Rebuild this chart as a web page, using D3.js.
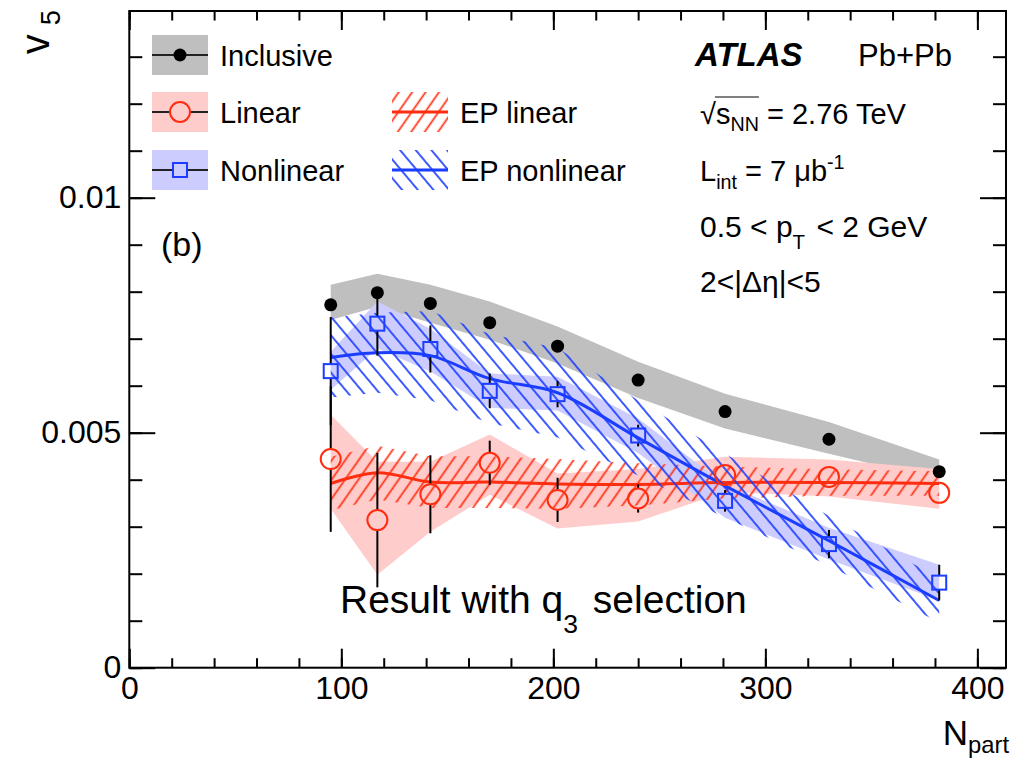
<!DOCTYPE html>
<html>
<head>
<meta charset="utf-8">
<script src="https://cdn.jsdelivr.net/npm/d3@7"></script>
<style>
  body { margin: 0; background: #fff; }
  text { font-family: "Liberation Sans", Arial, Helvetica, sans-serif; fill: #000; }
</style>
</head>
<body>
<svg id="canvas"></svg>
<script>
// N_part bins
const npart = [95, 117, 142, 170, 202, 240, 281, 330, 382];

// inclusive v5 + systematic band
const inclusive      = [0.00772, 0.00798, 0.00775, 0.00734, 0.00684, 0.00612, 0.00545, 0.00486, 0.00417];
const inclusiveErr   = [0.00008, 0.00008, 0.00008, 0.00008, 0.00008, 0.00008, 0.00008, 0.00008, 0.00008];
const inclusiveSysLo = [0.00740, 0.00768, 0.00734, 0.00698, 0.00647, 0.00574, 0.00509, 0.00455, 0.00400];
const inclusiveSysHi = [0.00815, 0.00838, 0.00815, 0.00779, 0.00726, 0.00651, 0.00583, 0.00523, 0.00443];

// linear component
const linear      = [0.00444, 0.00314, 0.00369, 0.00436, 0.00357, 0.00360, 0.00410, 0.00406, 0.00372];
const linearErr   = [0.00155, 0.00143, 0.00083, 0.00047, 0.00047, 0.00030, 0.00020, 0.00020, 0.00020];
const linearSysLo = [0.00338, 0.00198, 0.00289, 0.00368, 0.00296, 0.00311, 0.00374, 0.00364, 0.00338];
const linearSysHi = [0.00538, 0.00438, 0.00438, 0.00496, 0.00413, 0.00423, 0.00449, 0.00443, 0.00423];

// nonlinear component
const nonlinear      = [0.00631, 0.00732, 0.00678, 0.00589, 0.00582, 0.00494, 0.00355, 0.00263, 0.00181];
const nonlinearErr   = [0.00115, 0.00068, 0.00050, 0.00037, 0.00028, 0.00023, 0.00023, 0.00030, 0.00038];
const nonlinearSysLo = [0.00591, 0.00679, 0.00630, 0.00553, 0.00547, 0.00457, 0.00319, 0.00230, 0.00143];
const nonlinearSysHi = [0.00672, 0.00779, 0.00721, 0.00626, 0.00619, 0.00530, 0.00390, 0.00298, 0.00219];

// event-plane results (line + hatched band)
const epLinear       = [0.00392, 0.00415, 0.00395, 0.00395, 0.00391, 0.00390, 0.00394, 0.00394, 0.00392];
const epLinearErr    = [0.00057, 0.00057, 0.00055, 0.00055, 0.00053, 0.00045, 0.00034, 0.00028, 0.00026];
const epNonlinear    = [0.00660, 0.00670, 0.00664, 0.00615, 0.00585, 0.00489, 0.00387, 0.00270, 0.00143];
const epNonlinearErr = [0.00085, 0.00085, 0.00095, 0.00095, 0.00095, 0.00080, 0.00068, 0.00053, 0.00047];

const xMajorTicks = [0, 100, 200, 300, 400];
const yMajorTicks = [0, 0.005, 0.01];
const legendLabels = ["Inclusive", "Linear", "Nonlinear"];
const epLegendLabels = ["EP linear", "EP nonlinear"];

const grey = "#bfbfbf", pink = "#ffcccc", lightBlue = "#ccccff";
const red = "#ff2d0f", blue = "#1a3dff";

const W = 1014, H = 758;
const margins = { top: 11, right: 8, bottom: 90.3, left: 129.3 };
const plotW = W - margins.left - margins.right;
const plotH = H - margins.top - margins.bottom;

const svg = d3.select("#canvas").attr("width", W).attr("height", H);
svg.append("rect").attr("width", W).attr("height", H).attr("fill", "#fff");

const defs = svg.append("defs");
const hatch = (id, color, gap, angle) => {
    const p = defs.append("pattern")
        .attr("id", id)
        .attr("patternUnits", "userSpaceOnUse")
        .attr("width", gap).attr("height", gap)
        .attr("patternTransform", "rotate(" + angle + ")");
    p.append("line")
        .attr("x1", gap / 2).attr("x2", gap / 2)
        .attr("y1", 0).attr("y2", gap)
        .attr("stroke", color).attr("stroke-width", 1.7);
}
hatch("hatchRed", red, 11, 35);
hatch("hatchBlue", blue, 12, -40);

const g = svg.append("g")
    .attr("transform", "translate(" + margins.left + "," + margins.top + ")");

const x = d3.scaleLinear().domain([0, 413.5]).range([0, plotW]);
const y = d3.scaleLinear().domain([0, 0.013972]).range([plotH, 0]);

// bands
const bandArea = d3.area()
    .x(d => x(d.n))
    .y0(d => y(d.lo))
    .y1(d => y(d.hi));

const band = (lo, hi) => npart.map((n, i) => ({ n, lo: lo[i], hi: hi[i] }));

g.append("path").attr("d", bandArea(band(inclusiveSysLo, inclusiveSysHi))).attr("fill", grey);
g.append("path").attr("d", bandArea(band(linearSysLo, linearSysHi))).attr("fill", pink);
g.append("path").attr("d", bandArea(band(nonlinearSysLo, nonlinearSysHi))).attr("fill", lightBlue);

const epLine = d3.line()
    .x(d => x(d.n))
    .y(d => y(d.v))
    .curve(d3.curveCatmullRom.alpha(0.5));

const drawEP = (vals, errs, patternId, color) => {
    g.append("path")
        .attr("d", bandArea(band(vals.map((v, i) => v - errs[i]), vals.map((v, i) => v + errs[i]))))
        .attr("fill", "url(#" + patternId + ")");
    g.append("path")
        .attr("d", epLine(npart.map((n, i) => ({ n, v: vals[i] }))))
        .attr("fill", "none")
        .attr("stroke", color)
        .attr("stroke-width", 3);
}
drawEP(epLinear, epLinearErr, "hatchRed", red);
drawEP(epNonlinear, epNonlinearErr, "hatchBlue", blue);

// error bars, not drawn inside the marker
const errorBars = (vals, errs, gap) => {
    const segs = [];
    vals.forEach((v, i) => {
        const cx = x(npart[i]), cy = y(v);
        const top = y(v + errs[i]), bot = y(v - errs[i]);
        if (cy - gap > top) segs.push([cx, top, cy - gap]);
        if (bot > cy + gap) segs.push([cx, cy + gap, bot]);
    });
    g.append("g").selectAll("line")
        .data(segs)
        .enter()
        .append("line")
        .attr("x1", d => d[0]).attr("x2", d => d[0])
        .attr("y1", d => d[1]).attr("y2", d => d[2])
        .attr("stroke", "#000")
        .attr("stroke-width", 2);
}
errorBars(nonlinear, nonlinearErr, 7);
errorBars(linear, linearErr, 10);
errorBars(inclusive, inclusiveErr, 6.5);

// markers
const circleMarker = (sel, r, fill, stroke) => sel
    .attr("r", r).attr("fill", fill).attr("stroke", stroke).attr("stroke-width", 2);
const squareMarker = sel => sel
    .attr("width", 14).attr("height", 14)
    .attr("fill", "none").attr("stroke", blue).attr("stroke-width", 2);

g.append("g").selectAll("circle")
    .data(inclusive)
    .enter()
    .append("circle")
    .attr("cx", (d, i) => x(npart[i]))
    .attr("cy", d => y(d))
    .call(circleMarker, 6.5, "#000", "none");

g.append("g").selectAll("circle")
    .data(linear)
    .enter()
    .append("circle")
    .attr("cx", (d, i) => x(npart[i]))
    .attr("cy", d => y(d))
    .call(circleMarker, 10, "none", red);

g.append("g").selectAll("rect")
    .data(nonlinear)
    .enter()
    .append("rect")
    .attr("x", (d, i) => x(npart[i]) - 7)
    .attr("y", d => y(d) - 7)
    .call(squareMarker);

// axes, ROOT style: ticks inside on all four sides
const xMinor = d3.range(0, 414, 20);
const yMinor = d3.range(0, 0.0139, 0.001);
const noLabel = () => "";

const axisStyle = (sel) => {
    sel.select(".domain").remove();
    sel.selectAll(".tick line").attr("stroke", "#000").attr("stroke-width", 2);
    sel.selectAll("text").style("font-size", "32px").attr("fill", "#000");
}

g.append("g").attr("transform", "translate(0," + plotH + ")")
    .call(d3.axisBottom(x).tickValues(xMinor).tickSize(-9.5).tickFormat(noLabel)).call(axisStyle);
g.append("g").attr("transform", "translate(0," + plotH + ")")
    .call(d3.axisBottom(x).tickValues(xMajorTicks).tickSize(-19).tickPadding(9).tickFormat(d => d)).call(axisStyle);
g.append("g")
    .call(d3.axisTop(x).tickValues(xMinor).tickSize(-9.5).tickFormat(noLabel)).call(axisStyle);
g.append("g")
    .call(d3.axisTop(x).tickValues(xMajorTicks).tickSize(-19).tickFormat(noLabel)).call(axisStyle);

g.append("g")
    .call(d3.axisLeft(y).tickValues(yMinor).tickSize(-13).tickFormat(noLabel)).call(axisStyle);
g.append("g")
    .call(d3.axisLeft(y).tickValues(yMajorTicks).tickSize(-26).tickPadding(8).tickFormat(d => String(d))).call(axisStyle);
g.append("g").attr("transform", "translate(" + plotW + ",0)")
    .call(d3.axisRight(y).tickValues(yMinor).tickSize(-13).tickFormat(noLabel)).call(axisStyle);
g.append("g").attr("transform", "translate(" + plotW + ",0)")
    .call(d3.axisRight(y).tickValues(yMajorTicks).tickSize(-26).tickFormat(noLabel)).call(axisStyle);

g.append("rect")
    .attr("width", plotW).attr("height", plotH)
    .attr("fill", "none").attr("stroke", "#000").attr("stroke-width", 2);

// text with sub/superscripts
const richText = (parent, px, py, parts, size, extra) => {
    const t = parent.append("text").attr("x", px).attr("y", py).style("font-size", size + "px");
    if (extra) extra(t);
    let shift = 0;
    parts.forEach(p => {
        const target = p.sub ? size * (p.drop || 0.3) : p.sup ? -size * 0.4 : 0;
        t.append("tspan")
            .attr("dy", target - shift)
            .attr("dx", p.dx || 0)
            .style("font-size", (p.sub || p.sup ? size * 0.68 : size) + "px")
            .text(p.t);
        shift = target;
    });
    return t;
}

// axis titles
richText(svg, 0, 0, [{ t: "v" }, { t: "5", sub: true, drop: 0.28, dx: 9 }], 40,
    t => t.attr("text-anchor", "end").attr("transform", "translate(49,10) rotate(-90)"));
richText(svg, 1009, 745, [{ t: "N" }, { t: "part", sub: true, drop: 0.22 }], 35,
    t => t.attr("text-anchor", "end"));

// legend
const legend = svg.append("g");
const boxX = 152, boxW = 56, boxH = 40;
const rowY = [55, 112, 170];
const boxFill = [grey, pink, lightBlue];

legendLabels.forEach((label, i) => {
    legend.append("rect")
        .attr("x", boxX).attr("y", rowY[i] - boxH / 2)
        .attr("width", boxW).attr("height", boxH)
        .attr("fill", boxFill[i]);
    legend.append("line")
        .attr("x1", boxX).attr("x2", boxX + boxW)
        .attr("y1", rowY[i]).attr("y2", rowY[i])
        .attr("stroke", "#222").attr("stroke-width", 2);
    legend.append("text")
        .attr("x", 220).attr("y", rowY[i] + 11)
        .style("font-size", "29px")
        .text(label);
});
legend.append("circle").attr("cx", boxX + boxW / 2).attr("cy", rowY[0]).call(circleMarker, 6.5, "#000", "none");
legend.append("circle").attr("cx", boxX + boxW / 2).attr("cy", rowY[1]).call(circleMarker, 10, "#ffcccc", red);
legend.append("rect").attr("x", boxX + boxW / 2 - 7).attr("y", rowY[2] - 7).call(squareMarker).attr("fill", lightBlue);

const epColors = [red, blue], epPatterns = ["hatchRed", "hatchBlue"];
epLegendLabels.forEach((label, i) => {
    const cy = rowY[i + 1];
    legend.append("rect")
        .attr("x", 392).attr("y", cy - boxH / 2)
        .attr("width", boxW).attr("height", boxH)
        .attr("fill", "url(#" + epPatterns[i] + ")");
    legend.append("line")
        .attr("x1", 392).attr("x2", 392 + boxW)
        .attr("y1", cy).attr("y2", cy)
        .attr("stroke", epColors[i]).attr("stroke-width", 3);
    legend.append("text")
        .attr("x", 460).attr("y", cy + 11)
        .style("font-size", "29px")
        .text(label);
});

// ATLAS label block
svg.append("text").attr("x", 695).attr("y", 66)
    .style("font-size", "33px").style("font-weight", "bold").style("font-style", "italic")
    .text("ATLAS");
svg.append("text").attr("x", 858).attr("y", 66).style("font-size", "31px").text("Pb+Pb");

const sq = richText(svg, 700, 124, [{ t: "√" }, { t: "s" }, { t: "NN", sub: true, drop: 0.25 }, { t: " = 2.76 TeV" }], 29);
{
    const node = sq.node();
    const x0 = node.getStartPositionOfChar(1).x;
    const x1 = node.getEndPositionOfChar(3).x;
    svg.append("line").attr("x1", x0 - 1).attr("x2", x1).attr("y1", 124 - 27).attr("y2", 124 - 27)
        .attr("stroke", "#000").attr("stroke-width", 1);
}
richText(svg, 700, 181, [{ t: "L" }, { t: "int", sub: true, drop: 0.28 }, { t: " = 7 μb" }, { t: "-1", sup: true }], 29);
richText(svg, 700, 237, [{ t: "0.5 < p" }, { t: "T", sub: true, drop: 0.4 }, { t: " < 2 GeV", dx: 3 }], 30);
svg.append("text").attr("x", 700).attr("y", 292).style("font-size", "30px").text("2<|Δη|<5");

svg.append("text").attr("x", 161).attr("y", 256).style("font-size", "34px").text("(b)");

richText(svg, 340, 613, [{ t: "Result with q" }, { t: "3", sub: true, drop: 0.5 }, { t: "  selection", dx: 4 }], 39);
</script>
</body>
</html>
